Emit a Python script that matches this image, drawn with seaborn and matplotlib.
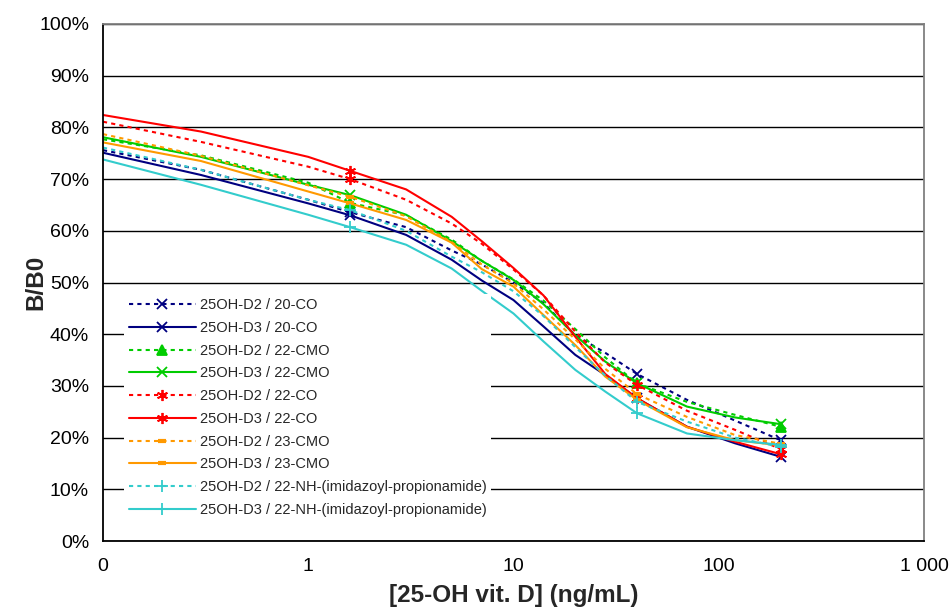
import numpy as np
import pandas as pd
import matplotlib
matplotlib.use("Agg")
import matplotlib.pyplot as plt
import matplotlib.ticker as mticker
import seaborn as sns

# concentrations (ng/mL) at which the curves were read; 0 is drawn at 0.1 on the log axis
x_conc = [0.1, 0.3, 1, 1.6, 3, 5, 7, 10, 14, 20, 28, 40, 70, 120, 200]
# standards that carry a marker
marker_idx = [3, 11, 14]

# B/B0 in %
d2_20co = [75.6, 71.8, 66.0, 63.6, 60.7, 56.2, 53.5, 50.0, 46.0, 39.8, 36.4, 32.3, 27.3, 23.3, 19.5]
d3_20co = [75.1, 70.8, 65.3, 63.0, 59.2, 54.4, 50.4, 46.6, 41.5, 36.0, 32.1, 27.6, 22.1, 18.9, 16.3]
d2_22cmo = [77.7, 74.6, 69.3, 65.4, 63.0, 58.3, 54.2, 50.6, 46.5, 41.0, 35.5, 30.5, 26.9, 24.4, 22.1]
d3_22cmo = [78.1, 74.3, 68.9, 66.9, 63.1, 58.0, 54.2, 50.5, 45.8, 39.8, 34.7, 30.5, 26.0, 23.9, 22.6]
d2_22co = [81.1, 77.2, 72.4, 70.0, 66.0, 61.4, 57.5, 52.5, 47.5, 40.5, 34.5, 30.2, 25.2, 21.5, 17.8]
d3_22co = [82.4, 79.2, 74.3, 71.6, 68.0, 62.7, 58.0, 52.8, 47.5, 39.5, 32.3, 27.6, 22.1, 19.2, 16.8]
d2_23cmo = [78.7, 74.5, 68.8, 66.6, 62.8, 57.8, 53.5, 49.8, 44.8, 39.0, 33.3, 28.4, 24.0, 20.5, 18.8]
d3_23cmo = [77.1, 73.5, 67.6, 65.3, 62.1, 57.7, 52.6, 49.2, 43.7, 37.9, 31.8, 27.3, 22.0, 19.5, 18.5]
d2_22nh = [76.1, 71.8, 66.0, 64.0, 60.0, 55.0, 52.0, 48.3, 43.5, 37.5, 32.0, 26.9, 23.1, 20.0, 18.2]
d3_22nh = [73.8, 68.9, 63.1, 60.7, 57.3, 52.7, 48.4, 44.0, 38.6, 33.1, 28.9, 24.7, 20.8, 19.5, 18.6]

labels = ["25OH-D2 / 20-CO", "25OH-D3 / 20-CO",
          "25OH-D2 / 22-CMO", "25OH-D3 / 22-CMO",
          "25OH-D2 / 22-CO", "25OH-D3 / 22-CO",
          "25OH-D2 / 23-CMO", "25OH-D3 / 23-CMO",
          "25OH-D2 / 22-NH-(imidazoyl-propionamide)",
          "25OH-D3 / 22-NH-(imidazoyl-propionamide)"]
series = [d2_20co, d3_20co, d2_22cmo, d3_22cmo, d2_22co, d3_22co,
          d2_23cmo, d3_23cmo, d2_22nh, d3_22nh]

xticks = [0.1, 1, 10, 100, 1000]
xticklabels = ["0", "1", "10", "100", "1 000"]

navy, green, red, orange, cyan = "#000080", "#00CC00", "#FF0000", "#FF9900", "#33CCCC"
colors = [navy, navy, green, green, red, red, orange, orange, cyan, cyan]
asterisk = (6, 2, 0)
markers = ["x", "x", "^", "x", asterisk, asterisk, "_", "_", "+", "+"]
msizes = [7, 7, 7, 7, 8, 8, 6, 6, 8, 8]

sns.set_theme(style="white")
plt.rcParams["font.family"] = ["Liberation Sans", "DejaVu Sans"]

fig = plt.figure(figsize=(9.53, 6.10), dpi=100)
ax = fig.add_axes([103 / 953, 1 - 541 / 610, 821 / 953, 517 / 610])

for i, (lab, vals) in enumerate(zip(labels, series)):
    df = pd.DataFrame({"conc": x_conc, "bb0": vals})
    dotted = (i % 2 == 0)
    sns.lineplot(data=df, x="conc", y="bb0", ax=ax, color=colors[i], label=lab,
                 linewidth=1.5, linestyle=(0, (2, 2)) if dotted else "-",
                 marker=markers[i], markevery=marker_idx, markersize=msizes[i],
                 markeredgewidth=3 if markers[i] == "_" else 1.3,
                 markeredgecolor=colors[i], markerfacecolor=colors[i],
                 estimator=None, sort=False)

ax.set_xscale("log")
ax.set_xlim(0.1, 1000)
ax.set_ylim(0, 100)
ax.xaxis.set_major_locator(mticker.FixedLocator(xticks))
ax.xaxis.set_major_formatter(mticker.FixedFormatter(xticklabels))
ax.xaxis.set_minor_locator(mticker.LogLocator(base=10, subs=np.arange(2, 10)))
ax.xaxis.set_minor_formatter(mticker.NullFormatter())
ax.yaxis.set_major_locator(mticker.MultipleLocator(10))
ax.yaxis.set_major_formatter(mticker.FuncFormatter(lambda v, p: f"{v:.0f}%"))

ax.grid(axis="y", color="black", linewidth=1)
ax.grid(axis="x", visible=False)
ax.set_axisbelow(True)
for side in ["left", "bottom"]:
    ax.spines[side].set_color("black")
    ax.spines[side].set_linewidth(1.3)
for side in ["top", "right"]:
    ax.spines[side].set_color("#808080")
    ax.spines[side].set_linewidth(1.3)

ax.tick_params(axis="both", which="both", direction="out", colors="black",
               labelsize=14, length=5, width=1)
ax.tick_params(axis="x", which="minor", length=4)
ax.tick_params(axis="x", which="major", pad=7)
ax.tick_params(axis="y", which="major", pad=5)
ax.set_xlabel("[25-OH vit. D] (ng/mL)", fontsize=17.5, fontweight="bold", labelpad=7)
ax.set_ylabel("B/B0", fontsize=17.5, fontweight="bold", labelpad=-6)

# white box without border, hides the gridlines behind the entries
leg = ax.legend(loc="upper left", bbox_to_anchor=(0.026, 0.478), frameon=True,
                fontsize=10.5, handlelength=4.6, handletextpad=0.3, labelspacing=0.6,
                borderpad=0.3, borderaxespad=0, numpoints=1, fancybox=False)
leg.get_frame().set_facecolor("white")
leg.get_frame().set_edgecolor("none")
leg.get_frame().set_alpha(1)

fig.savefig("out.png", dpi=100)
